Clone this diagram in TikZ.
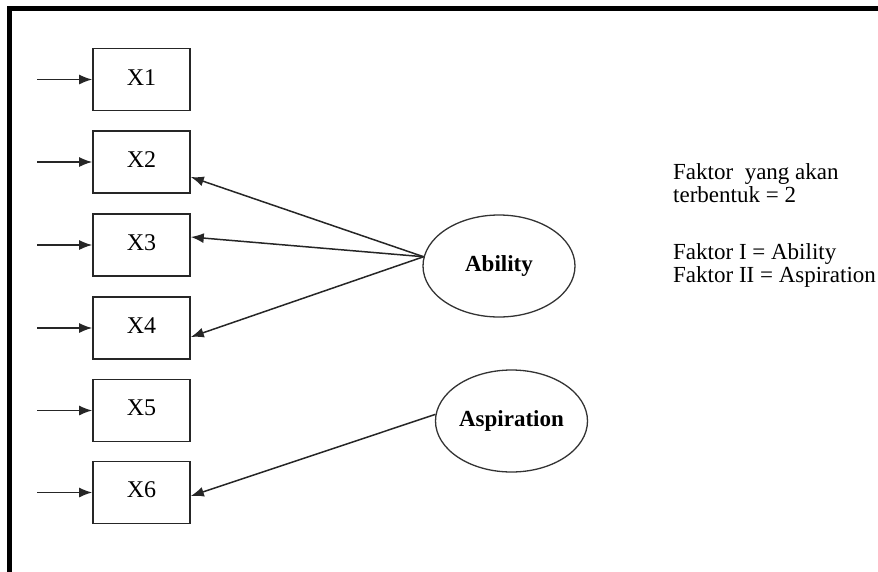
\documentclass[tikz,border=0pt]{standalone}
\usepackage{fontspec}
\setmainfont{Liberation Serif}
\usetikzlibrary{arrows.meta,shapes.geometric}

\tikzset{
  varbox/.style={draw=black!85, line width=1.6pt, minimum width=97pt, minimum height=62pt,
    inner sep=0pt, font=\fontsize{24}{26}\selectfont, text depth=0pt},
  factor/.style={ellipse, draw=black!80, line width=1.3pt, minimum width=152pt, minimum height=102pt,
    inner sep=0pt, font=\fontsize{23}{25}\selectfont\bfseries},
  link/.style={draw=black!85, line width=1.5pt, -{Latex[length=13pt,width=10pt]}},
  note/.style={anchor=base west, align=left, inner sep=0pt,
    font=\fontsize{23}{23}\selectfont}
}

\begin{document}
\begin{tikzpicture}[x=1pt,y=-1pt]
  \useasboundingbox (0,0) rectangle (878,571);

  % frame
  \draw[line width=5pt, line cap=rect] (9.5,571) -- (9.5,8.5) -- (878,8.5);

  % observed variables
  \node[varbox] (x1) at (141.5,79.5)  {\raisebox{3pt}{X1}};
  \node[varbox] (x2) at (141.5,162)   {\raisebox{5pt}{X2}};
  \node[varbox] (x3) at (141.5,245)   {\raisebox{5pt}{X3}};
  \node[varbox] (x4) at (141.5,328)   {\raisebox{5pt}{X4}};
  \node[varbox] (x5) at (141.5,410.5) {\raisebox{5pt}{X5}};
  \node[varbox] (x6) at (141.5,492.5) {\raisebox{5pt}{X6}};

  % error inputs
  \foreach \v in {x1,x2,x3,x4,x5,x6}{
    \coordinate (e\v) at (37,0 |- \v.west);
    \draw[link] (e\v) -- (\v.west);
  }

  % factors
  \node[factor] (ability) at (499,266) {Ability};
  \node[factor] (aspir) at (511.5,421) {Aspiration};

  % loadings
  \draw[link] (ability.173) -- ([yshift=-15pt]x2.east);
  \draw[link] (ability.173) -- ([yshift=8pt]x3.east);
  \draw[link] (ability.173) -- ([yshift=-9pt]x4.east);
  \draw[link] (aspir.175) -- ([yshift=-3.5pt]x6.east);

  % notes
  \node[note] (n1) at (673,202) {Faktor\ \ yang akan\\terbentuk = 2};
  \node[note] (n2) at (673,282) {Faktor I = Ability\\Faktor II = Aspiration};
\end{tikzpicture}
\end{document}
